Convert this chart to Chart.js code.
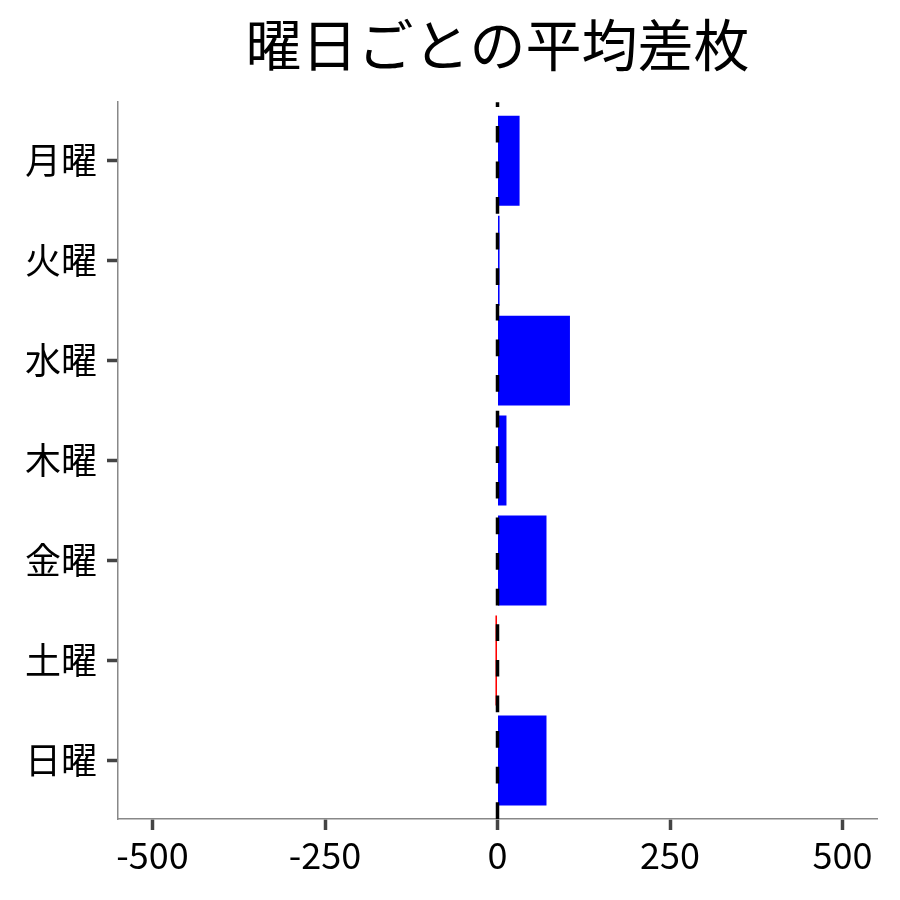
<!DOCTYPE html>
<html>
<head>
<meta charset="utf-8">
<script src="https://cdn.jsdelivr.net/npm/chart.js@4"></script>
<style>
  html, body { margin: 0; padding: 0; background: #fff; }
  #wrap { width: 900px; height: 900px; }
</style>
</head>
<body>
<div id="wrap"><canvas id="chart" width="900" height="900"></canvas></div>
<script>
// data
const days = ['月曜', '火曜', '水曜', '木曜', '金曜', '土曜', '日曜'];
const avgDiff = [32, 3, 105, 13, 71, -3, 71];
const xTicks = [-500, -250, 0, 250, 500];

const FONT = '"Noto Sans CJK JP", "Noto Sans", sans-serif';

// dashed vertical line at x = 0, drawn bottom-up
const zeroLine = {
  id: 'zeroLine',
  afterDatasetsDraw(chart) {
    const ctx = chart.ctx;
    const area = chart.chartArea;
    const x = chart.scales.x.getPixelForValue(0);
    ctx.save();
    ctx.strokeStyle = '#000';
    ctx.lineWidth = 3.5;
    ctx.setLineDash([16.7, 18.9]);
    ctx.beginPath();
    ctx.moveTo(x, area.bottom);
    ctx.lineTo(x, area.top);
    ctx.stroke();
    ctx.restore();
  }
};

const ctx = document.getElementById('chart').getContext('2d');
new Chart(ctx, {
  type: 'bar',
  data: {
    datasets: [{
      label: '平均差枚',
      data: avgDiff.map((v, i) => ({ x: v, y: i })),
      backgroundColor: avgDiff.map(v => v < 0 ? '#ff0000' : '#0000ff'),
      borderWidth: 0,
      barPercentage: 0.9,
      categoryPercentage: 1.0
    }]
  },
  options: {
    indexAxis: 'y',
    responsive: false,
    animation: false,
    layout: { padding: { right: 23 } },
    plugins: {
      legend: { display: false },
      tooltip: { enabled: false },
      title: {
        display: true,
        text: '曜日ごとの平均差枚',
        fullSize: false,
        color: '#000',
        font: { family: FONT, size: 56, weight: 'normal' },
        padding: { top: 11, bottom: 24 }
      }
    },
    scales: {
      x: {
        type: 'linear',
        min: -550,
        max: 550,
        afterBuildTicks: s => { s.ticks = xTicks.map(v => ({ value: v })); },
        afterFit: s => { s.height = 81; },
        grid: {
          drawOnChartArea: false,
          drawTicks: true,
          tickLength: 11,
          tickWidth: 3.5,
          tickColor: '#444'
        },
        border: { color: '#888', width: 1.5 },
        ticks: {
          color: '#000',
          padding: 4,
          maxRotation: 0,
          font: { family: FONT, size: 36 }
        }
      },
      y: {
        type: 'linear',
        reverse: true,
        offset: false,
        min: -0.585,
        max: days.length - 1 + 0.585,
        afterBuildTicks: s => { s.ticks = days.map((d, i) => ({ value: i })); },
        afterFit: s => { s.width = 118; },
        grid: {
          offset: false,
          drawOnChartArea: false,
          drawTicks: true,
          tickLength: 11,
          tickWidth: 3.5,
          tickColor: '#444'
        },
        border: { color: '#888', width: 1.5 },
        ticks: {
          color: '#000',
          padding: 10,
          font: { family: FONT, size: 36 },
          callback: v => days[v]
        }
      }
    }
  },
  plugins: [zeroLine]
});
</script>
</body>
</html>
